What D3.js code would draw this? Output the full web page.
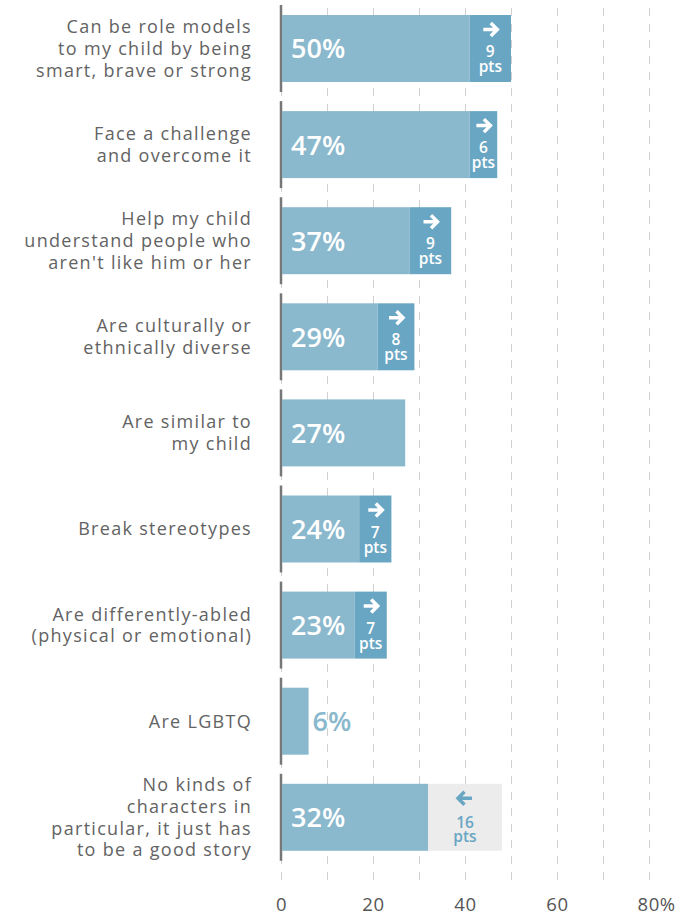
<!DOCTYPE html>
<html>
<head>
<meta charset="utf-8">
<script src="https://cdn.jsdelivr.net/npm/d3@7"></script>
<style>
  html, body { margin: 0; padding: 0; background: #fff; }
  svg { display: block; font-family: "Open Sans", "Noto Sans", sans-serif; }
</style>
</head>
<body>
<svg id="chart" width="690" height="916"></svg>
<script>
// ---- data ----
const categories = [
  "Can be role models|to my child by being|smart, brave or strong",
  "Face a challenge|and overcome it",
  "Help my child|understand people who|aren't like him or her",
  "Are culturally or|ethnically diverse",
  "Are similar to|my child",
  "Break stereotypes",
  "Are differently-abled|(physical or emotional)",
  "Are LGBTQ",
  "No kinds of|characters in|particular, it just has|to be a good story"
];
const values = [50, 47, 37, 29, 27, 24, 23, 6, 32];
const changes = [9, 6, 9, 8, null, 7, 7, null, -16];
const tickValues = [0, 20, 40, 60, 80];
const gridValues = [0, 10, 20, 30, 40, 50, 60, 70, 80];

// ---- styles ----
const baseColor = "#8ab8cd";
const darkColor = "#69a6c3";
const greyColor = "#ececec";
const labelColor = "#636363";
const fontFam = "'Open Sans', 'Noto Sans', sans-serif";

const svg = d3.select("#chart");
const x = d3.scaleLinear().domain([0, 80]).range([281, 649]);
const y = d3.scaleBand().domain(categories).range([0.6, 865.2])
  .paddingInner(0.303).paddingOuter(0.15);

// grid
const grid = svg.append("g").attr("transform", "translate(0,880)")
  .call(d3.axisBottom(x).tickValues(gridValues).tickSize(-880).tickFormat(""));
grid.select(".domain").remove();
grid.selectAll("line").attr("stroke", "#d0d0d0").attr("stroke-width", 1)
  .attr("stroke-dasharray", "8,8");

// x axis labels
const ax = svg.append("g").attr("transform", "translate(0,911)")
  .call(d3.axisBottom(x).tickValues(tickValues).tickSize(0)
    .tickFormat(d => d === 80 ? "80%" : d));
ax.select(".domain").remove();
ax.selectAll("text").attr("y", 0).attr("dy", 0)
  .attr("font-size", 18.5).attr("fill", "#555").attr("font-family", fontFam)
  .attr("letter-spacing", 0.6);
ax.selectAll("text").filter(d => d === 80).attr("text-anchor", "start").attr("x", -12);

const rows = svg.append("g").selectAll("g").data(categories).join("g")
  .attr("transform", d => `translate(0,${y(d)})`);
const bw = y.bandwidth();

// axis segments
rows.append("line").attr("x1", x(0)).attr("x2", x(0)).attr("y1", -10).attr("y2", bw + 10)
  .attr("stroke", "#777").attr("stroke-width", 2.5);

// base bars
rows.append("rect")
  .attr("x", x(0) + 1)
  .attr("width", (d, i) => x(changes[i] > 0 ? values[i] - changes[i] : values[i]) - x(0) - 1)
  .attr("height", bw).attr("fill", baseColor);

// change segments
rows.each(function (d, i) {
  const c = changes[i];
  if (c === null) return;
  const g = d3.select(this);
  const x0 = c > 0 ? x(values[i] - c) : x(values[i]);
  const x1 = c > 0 ? x(values[i]) : x(values[i] - c);
  const col = c > 0 ? "#fff" : darkColor;
  g.append("rect").attr("x", x0).attr("width", x1 - x0).attr("height", bw)
    .attr("fill", c > 0 ? darkColor : greyColor);
  const cx = (x0 + x1) / 2;
  const ay = 14.5;
  const dir = c > 0 ? 1 : -1;
  g.append("path")
    .attr("d", `M${cx - 7 * dir},${ay} L${cx + 6 * dir},${ay} M${cx + 0.5 * dir},${ay - 6.5} L${cx + 7 * dir},${ay} L${cx + 0.5 * dir},${ay + 6.5}`)
    .attr("fill", "none").attr("stroke", col).attr("stroke-width", 3.5)
    .attr("stroke-linecap", "butt").attr("stroke-linejoin", "miter");
  g.append("text").attr("x", cx).attr("y", c > 0 ? 42 : 44).attr("text-anchor", "middle")
    .attr("font-size", 15.5).attr("font-weight", 600).attr("fill", col).text(Math.abs(c));
  g.append("text").attr("x", cx).attr("y", c > 0 ? 57 : 58).attr("text-anchor", "middle")
    .attr("font-size", 15.5).attr("font-weight", 600).attr("fill", col).text("pts");
});

// value labels
rows.append("text")
  .attr("x", (d, i) => values[i] < 10 ? x(values[i]) + 4 : x(0) + 10)
  .attr("y", bw / 2 + 10)
  .attr("font-size", 27).attr("font-weight", 600)
  .attr("fill", (d, i) => values[i] < 10 ? baseColor : "#fff")
  .text((d, i) => values[i] + "%");

// category labels
rows.each(function (d) {
  const lines = d.split("|");
  const t = d3.select(this).append("text").attr("text-anchor", "end")
    .attr("font-size", 18).attr("fill", labelColor).attr("letter-spacing", 1.3);
  lines.forEach((ln, j) => {
    t.append("tspan").attr("x", 252)
      .attr("y", bw / 2 + (j - (lines.length - 1) / 2) * 21.8 + 6.5)
      .text(ln);
  });
});
</script>
</body>
</html>
